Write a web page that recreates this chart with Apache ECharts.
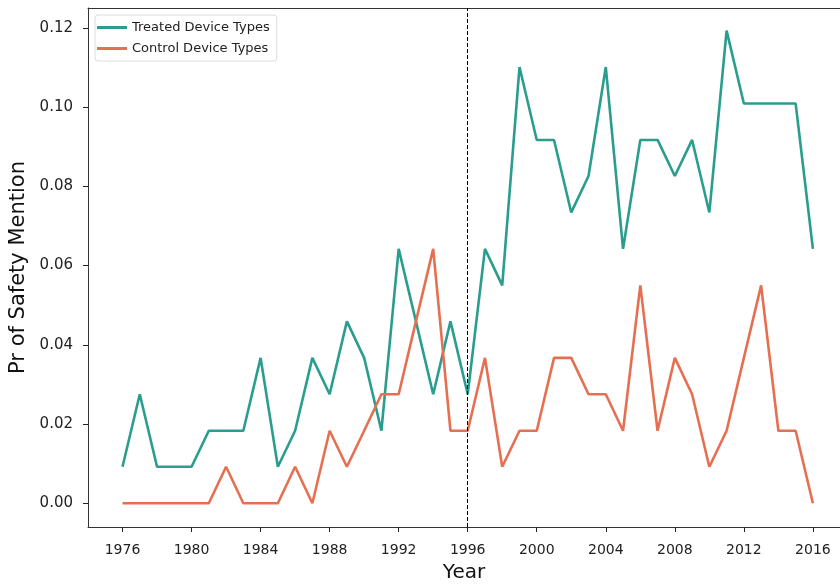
<!DOCTYPE html>
<html>
<head>
<meta charset="utf-8">
<title></title>
<script src="https://cdn.jsdelivr.net/npm/echarts@6/dist/echarts.min.js"></script>
<style>
	body { margin: 0; background: #fff; }
	#main { width: 840px; height: 584px; }
</style>
</head>
<body>
<div id="main"></div>
<script type="text/javascript">
var years = [];
for (var y = 1976; y <= 2016; y++) years.push(y);

var treated = [0.0092, 0.0275, 0.0092, 0.0092, 0.0092, 0.0183, 0.0183, 0.0183, 0.0367, 0.0092,
	0.0183, 0.0367, 0.0275, 0.0459, 0.0367, 0.0183, 0.0642, 0.0459, 0.0275, 0.0459,
	0.0275, 0.0642, 0.0550, 0.1101, 0.0917, 0.0917, 0.0734, 0.0826, 0.1101, 0.0642,
	0.0917, 0.0917, 0.0826, 0.0917, 0.0734, 0.1193, 0.1009, 0.1009, 0.1009, 0.1009,
	0.0642];
var control = [0, 0, 0, 0, 0, 0, 0.0092, 0, 0, 0,
	0.0092, 0, 0.0183, 0.0092, 0.0183, 0.0275, 0.0275, 0.0459, 0.0642, 0.0183,
	0.0183, 0.0367, 0.0092, 0.0183, 0.0183, 0.0367, 0.0367, 0.0275, 0.0275, 0.0183,
	0.0550, 0.0183, 0.0367, 0.0275, 0.0092, 0.0183, 0.0367, 0.0550, 0.0183, 0.0183,
	0];
var xTicks = [1976, 1980, 1984, 1988, 1992, 1996, 2000, 2004, 2008, 2012, 2016];
var yTicks = [0, 0.02, 0.04, 0.06, 0.08, 0.10, 0.12];
var cutYear = 1996;

function pairs(vals) {
	return years.map(function (yr, i) { return [yr, vals[i]]; });
}

var font = 'DejaVu Sans';
var xMin = 1974, xMax = 2017.57;
var myChart = echarts.init(document.getElementById('main'));
myChart.setOption({
	animation: false,
	textStyle: { fontFamily: font },
	grid: { left: 88, right: 0, top: 8, bottom: 57, outerBoundsMode: 'none' },
	legend: {
		left: 95, top: 15,
		orient: 'vertical',
		itemWidth: 30, itemHeight: 3, itemGap: 8,
		icon: 'rect',
		padding: [6, 7, 6, 2],
		borderColor: '#dcdcdc', borderWidth: 1, borderRadius: 3,
		backgroundColor: '#fff',
		textStyle: { fontFamily: font, fontSize: 13, color: '#222' },
		data: ['Treated Device Types', 'Control Device Types']
	},
	xAxis: [{
		type: 'value', min: xMin, max: xMax,
		name: 'Year', nameLocation: 'middle', nameGap: 36,
		nameTextStyle: { fontFamily: font, fontSize: 20, color: '#111' },
		axisLine: { show: true, onZero: false, lineStyle: { color: '#333', width: 1 } },
		axisTick: { show: true, length: 5, customValues: xTicks, lineStyle: { color: '#222' } },
		axisLabel: { customValues: xTicks, fontSize: 14, color: '#222', margin: 16, formatter: function (v) { return String(v); } },
		splitLine: { show: false }
	}, {
		// top spine only (right spine falls outside the picture)
		type: 'value', position: 'top', min: xMin, max: xMax,
		axisLine: { show: true, onZero: false, lineStyle: { color: '#333', width: 1 } },
		axisTick: { show: false },
		axisLabel: { show: false },
		splitLine: { show: false }
	}],
	yAxis: {
		type: 'value', min: -0.006, max: 0.125,
		name: 'Pr of Safety Mention', nameLocation: 'middle', nameGap: 54, nameRotate: 90,
		nameTextStyle: { fontFamily: font, fontSize: 21, color: '#111' },
		axisLine: { show: true, onZero: false, lineStyle: { color: '#333', width: 1 } },
		axisTick: { show: true, length: 5, customValues: yTicks, lineStyle: { color: '#222' } },
		axisLabel: { customValues: yTicks, fontSize: 15, color: '#222', margin: 15, formatter: function (v) { return v.toFixed(2); } },
		splitLine: { show: false }
	},
	series: [{
		name: 'Treated Device Types',
		type: 'line',
		data: pairs(treated),
		showSymbol: false,
		color: '#2a9d8f',
		lineStyle: { width: 2.6, color: '#2a9d8f' },
		markLine: {
			silent: true, symbol: 'none',
			label: { show: false },
			lineStyle: { color: '#000', type: [4, 2], width: 1 },
			data: [{ xAxis: cutYear }]
		}
	}, {
		name: 'Control Device Types',
		type: 'line',
		data: pairs(control),
		showSymbol: false,
		color: '#e76f51',
		lineStyle: { width: 2.6, color: '#e76f51' }
	}]
});
</script>
</body>
</html>
